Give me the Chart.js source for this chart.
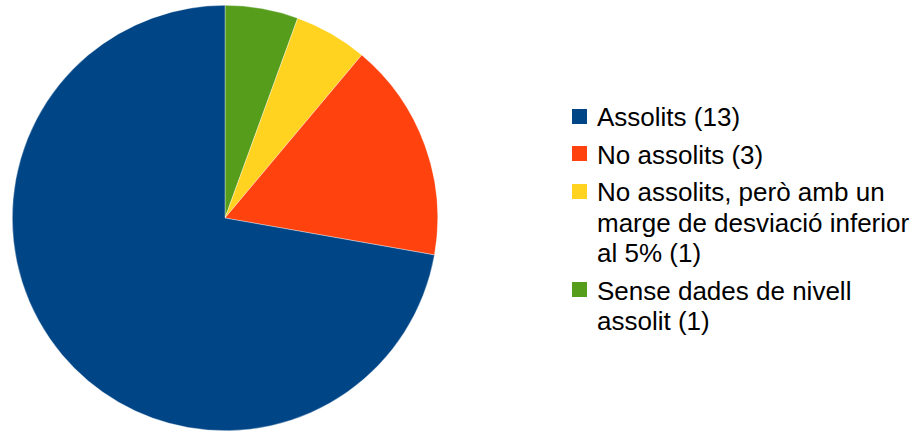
<!DOCTYPE html>
<html lang="ca">
  <head>
    <meta charset="UTF-8" />
    <title>Assolits</title>
    <script src="https://cdn.jsdelivr.net/npm/chart.js"></script>
    <style>
      body {
        margin: 0;
        width: 912px;
        height: 432px;
        background: #fff;
        position: relative;
        overflow: hidden;
        font-family: "Liberation Sans", Arial, sans-serif;
      }
      #pieBox {
        position: absolute;
        left: 12px;
        top: 5px;
        width: 426px;
        height: 426px;
      }
      #legend {
        position: absolute;
        left: 572px;
        top: 102.4px;
        font-size: 26px;
        line-height: 30.5px;
        color: #000;
      }
      .item {
        position: relative;
        padding-left: 25px;
        margin-bottom: 7px;
        white-space: nowrap;
      }
      .box {
        position: absolute;
        left: 0;
        top: 6.6px;
        width: 15px;
        height: 15px;
      }
    </style>
  </head>
  <body>
    <div id="pieBox"><canvas id="myChart"></canvas></div>
    <div id="legend"></div>

    <script>
      // dades (ordre de la llegenda)
      const labels = [
        ["Assolits (13)"],
        ["No assolits (3)"],
        ["No assolits, però amb un", "marge de desviació inferior", "al 5% (1)"],
        ["Sense dades de nivell", "assolit (1)"],
      ];
      const values = [13, 3, 1, 1];
      const colors = ["#004586", "#ff420e", "#ffd320", "#579d1c"];

      // llegenda en html
      const legend = document.querySelector("#legend");
      labels.forEach((lines, i) => {
        const item = document.createElement("div");
        item.className = "item";
        const box = document.createElement("span");
        box.className = "box";
        box.style.background = colors[i];
        item.appendChild(box);
        lines.forEach((t, j) => {
          if (j > 0) item.appendChild(document.createElement("br"));
          item.appendChild(document.createTextNode(t));
        });
        legend.appendChild(item);
      });

      // el pastís va en sentit antihorari a l'original, per això invertim
      const ctx = document.querySelector("#myChart").getContext("2d");
      new Chart(ctx, {
        type: "pie",
        data: {
          labels: labels.map((l) => l.join(" ")).reverse(),
          datasets: [
            {
              data: values.slice().reverse(),
              backgroundColor: colors.slice().reverse(),
              borderColor: "rgba(255,255,255,0.6)",
              borderWidth: 0.6,
            },
          ],
        },
        options: {
          responsive: true,
          maintainAspectRatio: false,
          animation: false,
          layout: { padding: 0 },
          plugins: {
            legend: { display: false },
            tooltip: { enabled: false },
          },
        },
      });
    </script>
  </body>
</html>
